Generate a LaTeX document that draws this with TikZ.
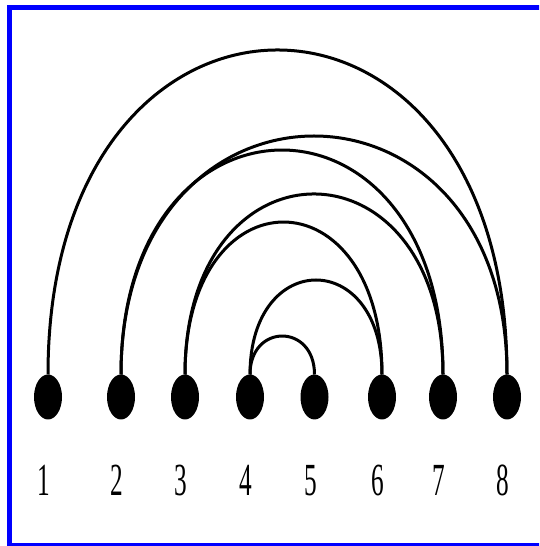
\documentclass[tikz,border=0pt]{standalone}
\usepackage{fontspec}
\usetikzlibrary{positioning, shapes.geometric}
\newfontfamily\digitfont[FakeStretch=0.55]{Liberation Serif}
\definecolor{cframe}{RGB}{0,0,255}
\tikzset{
  every picture/.style={line width=3pt},
  vertex/.style={ellipse, fill=black, draw=none, inner sep=0pt, outer sep=0pt, minimum width=28pt, minimum height=45pt},
  num/.style={font=\digitfont\fontsize{46}{46}\selectfont, inner sep=0pt, outer sep=0pt, xshift=-4pt},
  link/.style={draw=black, line width=3pt},
}

\begin{document}
\begin{tikzpicture}[x=1pt, y=1pt]
  \useasboundingbox (0,0) rectangle (539,546);
  \clip (0,0) rectangle (539,546);
  \fill[white] (0,0) rectangle (539,546);
  % frame, its right side runs off the page
  \draw[cframe, line width=5pt] (9.5,0) rectangle (545,538.5);
  % the eight points
  \node[vertex] (n1) at (48,149) {};
  \node[vertex, right=45pt of n1] (n2) {};
  \node[vertex, right=36pt of n2] (n3) {};
  \node[vertex, right=37pt of n3] (n4) {};
  \node[vertex, right=36.5pt of n4] (n5) {};
  \node[vertex, right=39.5pt of n5] (n6) {};
  \node[vertex, right=33pt of n6] (n7) {};
  \node[vertex, right=36pt of n7] (n8) {};
  % numbers under the points
  \node[num, below=45.5pt of n1] (l1) {1};
  \node[num, below=45.5pt of n2] (l2) {2};
  \node[num, below=45.5pt of n3] (l3) {3};
  \node[num, below=45.5pt of n4] (l4) {4};
  \node[num, below=45.5pt of n5] (l5) {5};
  \node[num, below=45.5pt of n6] (l6) {6};
  \node[num, below=45.5pt of n7] (l7) {7};
  \node[num, below=45.5pt of n8] (l8) {8};
  % arcs
  \draw[link] (n1.north) .. controls +(0,432.7) and +(0,432.7) .. (n8.north);
  \draw[link] (n2.north) .. controls +(0,318) and +(0,318) .. (n8.north);
  \draw[link] (n2.north) .. controls +(0,299.3) and +(0,299.3) .. (n7.north);
  \draw[link] (n3.north) .. controls +(0,240.7) and +(0,240.7) .. (n7.north);
  \draw[link] (n3.north) .. controls +(0,203.3) and +(0,203.3) .. (n6.north);
  \draw[link] (n4.north) .. controls +(0,126) and +(0,126) .. (n6.north);
  \draw[link] (n4.north) .. controls +(0,51.3) and +(0,51.3) .. (n5.north);
\end{tikzpicture}
\end{document}
